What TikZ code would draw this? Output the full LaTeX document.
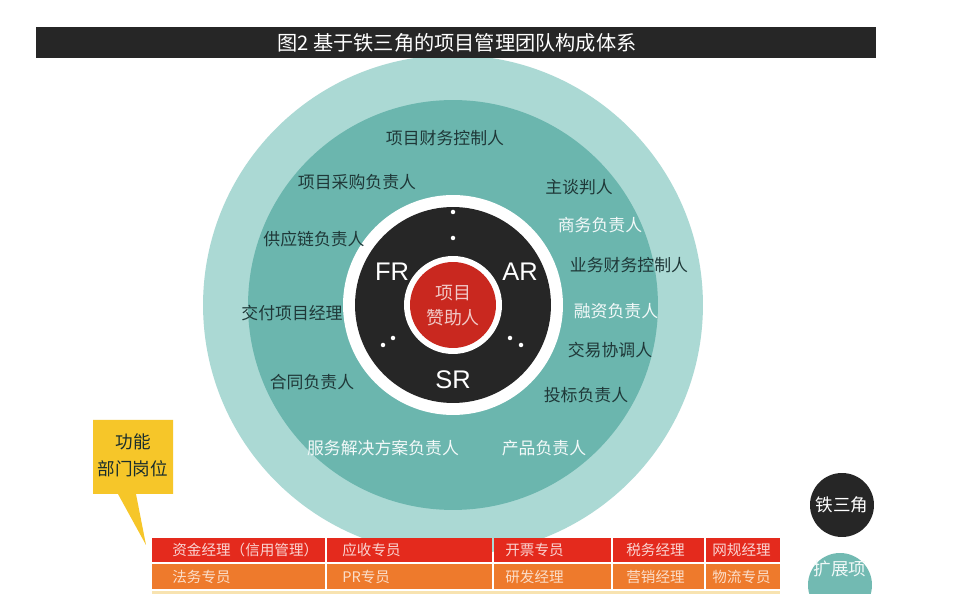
\documentclass[tikz,border=0pt]{standalone}
\usepackage{fontspec}
\setmainfont{Liberation Sans}
\newfontfamily\cjk{Noto Sans CJK SC}
\definecolor{ringout}{HTML}{ABD9D4}
\definecolor{ringmid}{HTML}{6BB6AE}
\definecolor{coreblack}{HTML}{262626}
\definecolor{sponsor}{HTML}{C9281F}
\definecolor{labeldark}{HTML}{1F3838}
\definecolor{callout}{HTML}{F6C629}
\definecolor{rowred}{HTML}{E42A1D}
\definecolor{roworange}{HTML}{EE7A2C}
\definecolor{rowpale}{HTML}{F8E3B0}

\begin{document}
\begin{tikzpicture}[x=0.02cm,y=-0.02cm,
		role/.style={font=\cjk\fontsize{9.6}{11}\selectfont,text=labeldark,inner sep=0pt},
		rolew/.style={role,text=white!92!ringmid},
		iron/.style={font=\fontsize{14.5}{16}\selectfont,text=white,inner sep=0pt},
		cell/.style={font=\cjk\fontsize{8.3}{10}\selectfont,anchor=west,inner sep=0pt},
		dot/.style={fill=white}]
		\useasboundingbox (0,0) rectangle (965,594);
		\clip (0,0) rectangle (965,594);
		\fill[white] (0,0) rectangle (965,594);
		% rings
		\fill[ringout] (453,305) circle (5cm);
		\fill[ringmid] (453,305) circle (4.1cm);
		\fill[white] (453,305) circle (2.2cm);
		\fill[coreblack] (453,305) circle (1.96cm);
		\fill[white] (453,305) circle (0.98cm);
		\fill[sponsor] (453,305) circle (0.86cm);
		\node[font=\cjk\fontsize{10.2}{14.2}\selectfont,text=sponsor!25!white,align=center,inner sep=0pt] (sponsor) at (453,306) {项目\\赞助人};
		% iron triangle
		\node[iron] (fr) at (392,272) {FR};
		\node[iron] (ar) at (520,272) {AR};
		\node[iron] (sr) at (453,380) {SR};
		\fill[dot] (453,212) circle (0.045cm); \fill[dot] (453,238) circle (0.045cm);
		\fill[dot] (383,345) circle (0.045cm); \fill[dot] (393,338) circle (0.045cm);
		\fill[dot] (510,338) circle (0.045cm); \fill[dot] (521,345) circle (0.045cm);
		% extended roles
		\node[role] (pfc) at (445,138) {项目财务控制人};
		\node[role] (buy) at (357,182) {项目采购负责人};
		\node[role] (neg) at (579,187) {主谈判人};
		\node[rolew] (biz) at (600,225) {商务负责人};
		\node[role] (scm) at (314,239) {供应链负责人};
		\node[role] (bfc) at (629,265) {业务财务控制人};
		\node[role] (dpm) at (292,313) {交付项目经理};
		\node[rolew] (fin) at (616,311) {融资负责人};
		\node[role] (deal) at (610,350) {交易协调人};
		\node[role] (ctr) at (312,382) {合同负责人};
		\node[role] (bid) at (586,395) {投标负责人};
		\node[rolew] (sol) at (383,448) {服务解决方案负责人};
		\node[rolew] (prod) at (544,448) {产品负责人};
		% title
		\fill[coreblack] (36,27) rectangle (876,58);
		\node[font=\cjk\fontsize{11.5}{13}\selectfont,text=white,inner sep=0pt] (title) at (457,43) {图2\ 基于铁三角的项目管理团队构成体系};
		% callout
		\fill[callout] (93,420) -- (173,420) -- (173,494) -- (136,494) -- (146,545) -- (118,494) -- (93,494) -- cycle;
		\node[font=\cjk\fontsize{10}{15.3}\selectfont,text=labeldark!80!black,align=center,inner sep=0pt] (func) at (133,455) {功能\\部门岗位};
		% table
		\fill[rowpale] (152,591) rectangle (780,600);
		\foreach \xa/\xb/\xt/\txt [count=\i] in {152/325/172/资金经理（信用管理）,327/492/342/应收专员,494/611/505/开票专员,613/704/626/税务经理,706/780/712/网规经理}{
			\fill[rowred] (\xa,538) rectangle (\xb,562);
			\node[cell,text=rowred!20!white] (top\i) at (\xt,550) {\txt};
		}
		\foreach \xa/\xb/\xt/\txt [count=\i] in {152/325/172/法务专员,327/492/342/PR专员,494/611/505/研发经理,613/704/626/营销经理,706/780/712/物流专员}{
			\fill[roworange] (\xa,564) rectangle (\xb,589);
			\node[cell,text=roworange!25!white] (bot\i) at (\xt,577) {\txt};
		}
		% legend
		\fill[coreblack] (842,505) circle (0.64cm);
		\node[font=\cjk\fontsize{10}{12}\selectfont,text=white,inner sep=0pt] (legiron) at (842,505) {铁三角};
		\fill[ringmid!95!white] (840,585) circle (0.64cm);
		\node[font=\cjk\fontsize{10}{19}\selectfont,text=white!90!ringmid,align=center,inner sep=0pt] (legext) at (840,586) {扩展项\\目负责人};
\end{tikzpicture}
\end{document}
